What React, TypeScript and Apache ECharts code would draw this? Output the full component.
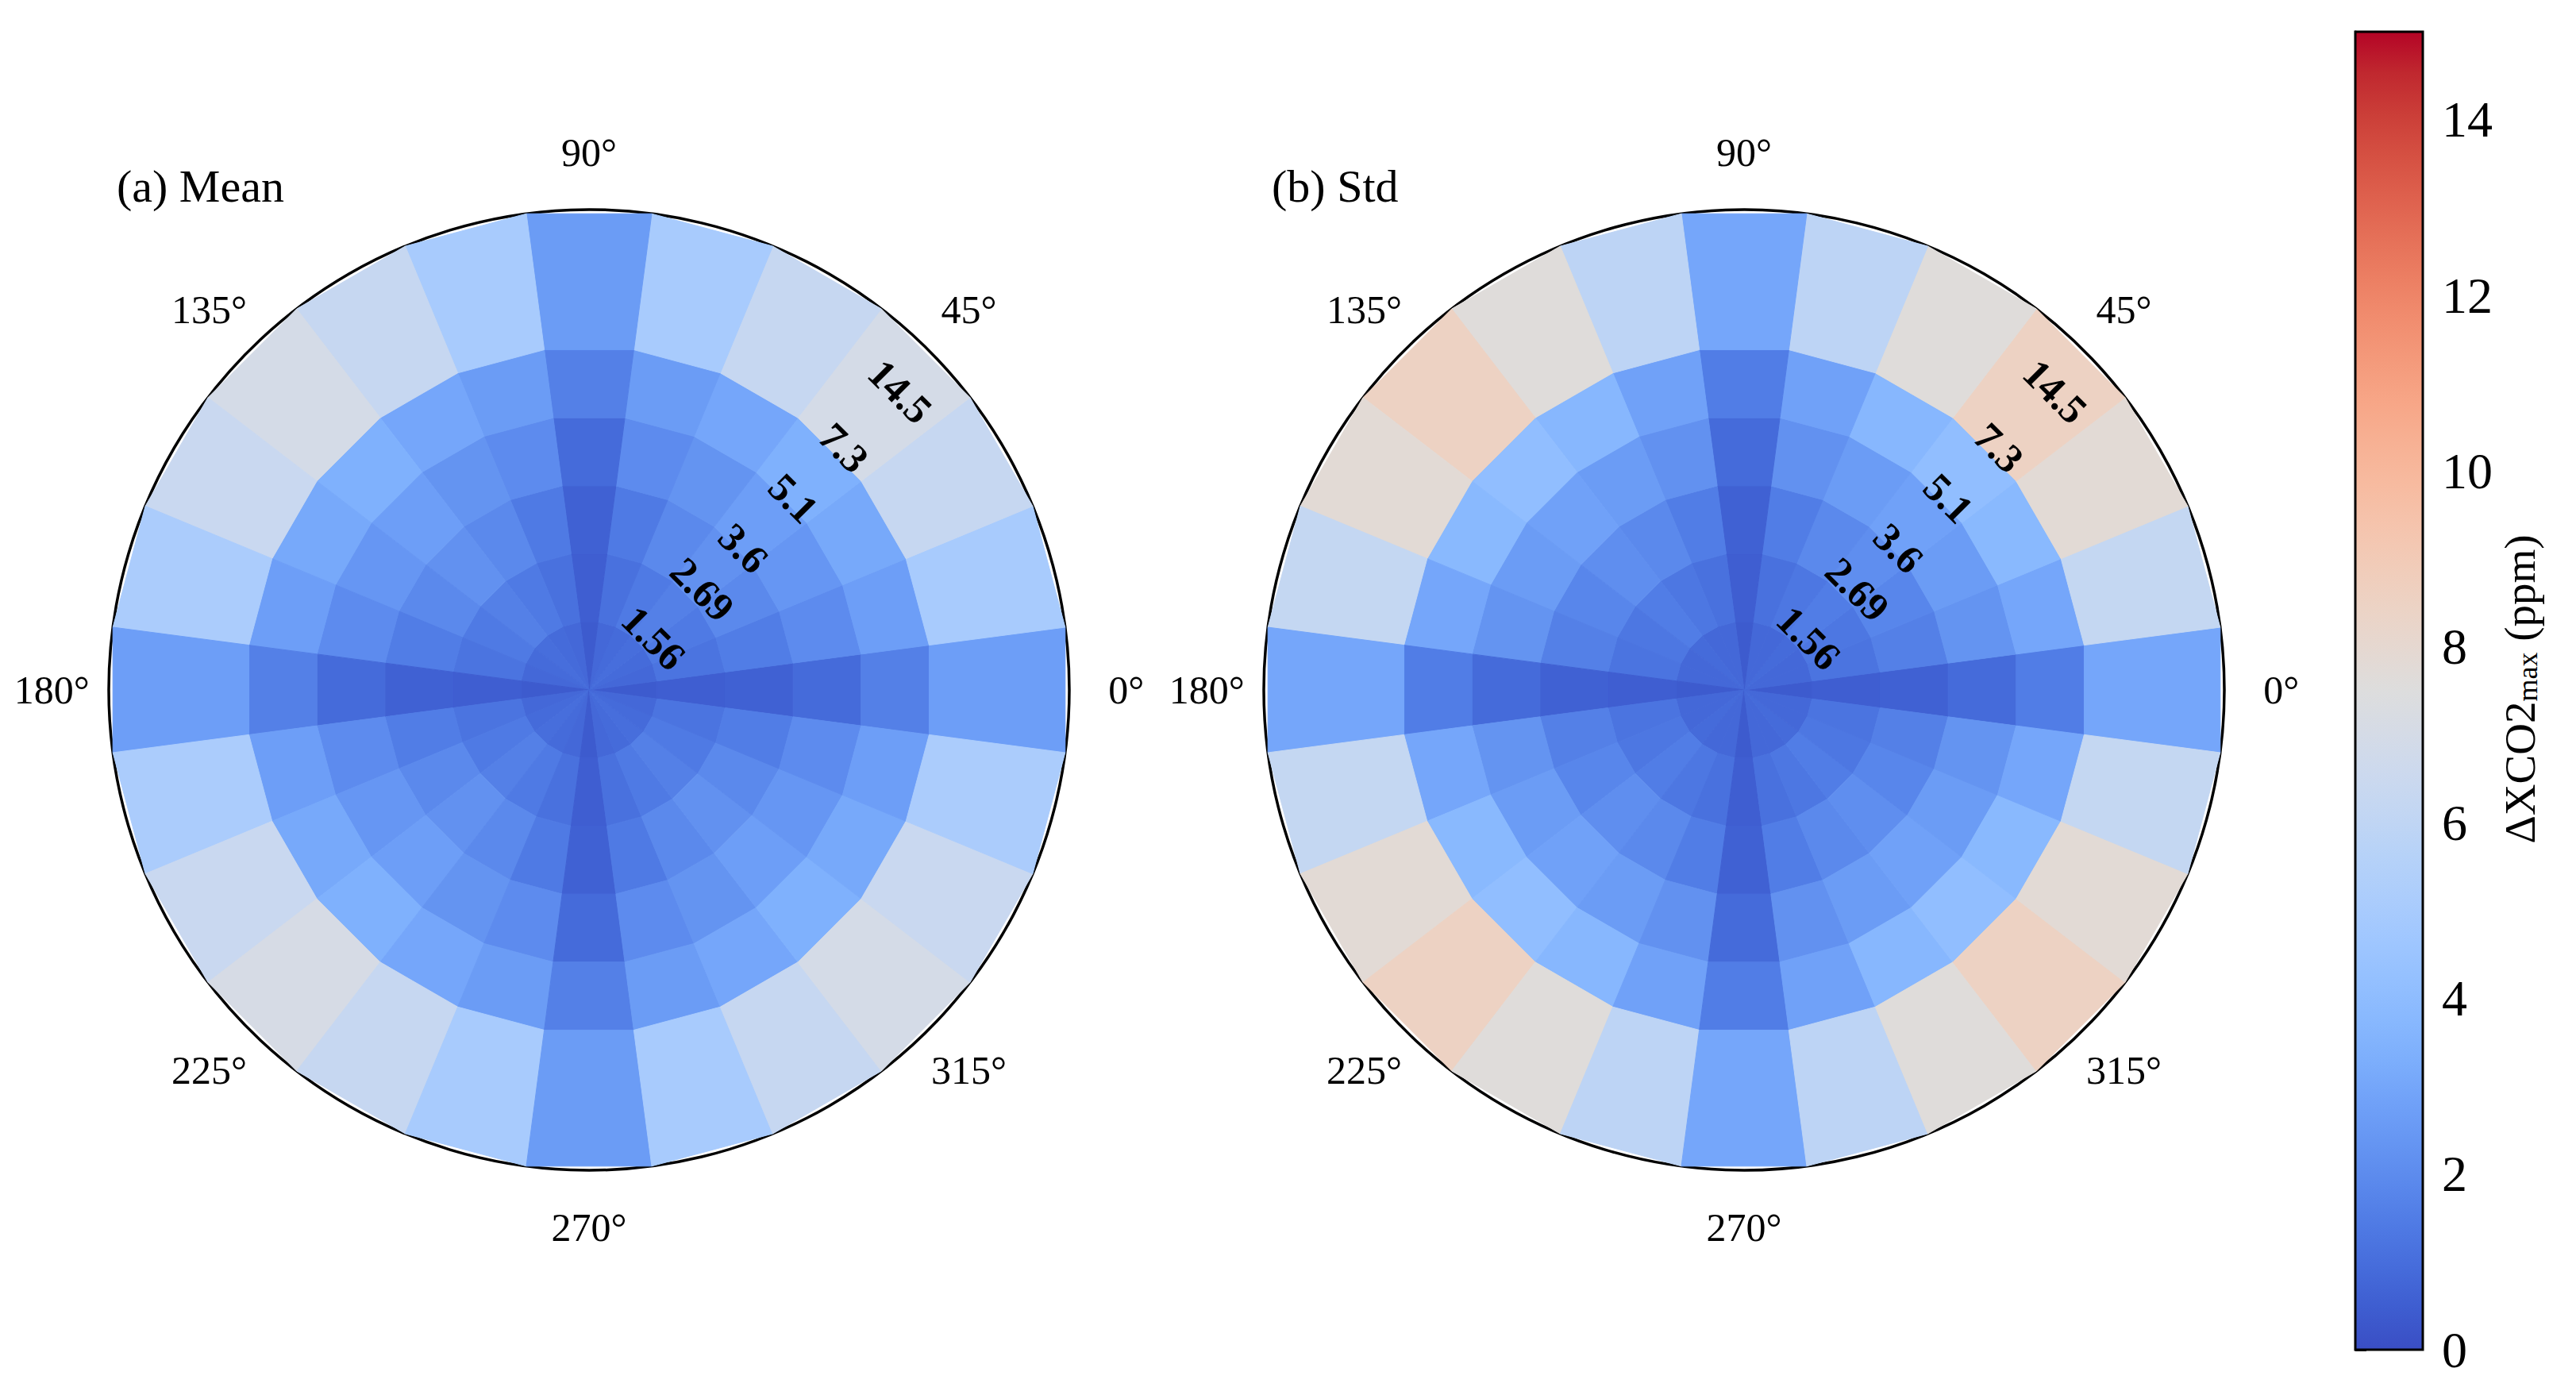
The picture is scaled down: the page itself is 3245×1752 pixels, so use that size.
import React, { useEffect, useRef } from 'react';
import * as echarts from 'echarts';

const FONT = "'Liberation Serif', 'Times New Roman', serif";

// direction bins (centre angle, degrees)
const angles = [0, 15, 30, 45, 60, 75, 90, 105, 120, 135, 150, 165, 180, 195, 210, 225, 240, 255, 270, 285, 300, 315, 330, 345];
// radial bin edges (axis units)
const ringEdges = [0, 1, 2, 3, 4, 5, 7];
const rTickLabels = ['1.56', '2.69', '3.6', '5.1', '7.3', '14.5'];
const angleTicks = [0, 45, 90, 135, 180, 225, 270, 315];
const cbTicks = [0, 2, 4, 6, 8, 10, 12, 14];
const cbRange = [0, 15];

// (a) Mean, ring 1 (innermost) .. ring 6 (outermost), values in ppm
const meanR1 = [0.4, 0.8, 0.9, 1.0, 0.9, 0.8, 0.4, 0.8, 0.9, 1.0, 0.9, 0.8, 0.4, 0.8, 0.9, 1.0, 0.9, 0.8, 0.4, 0.8, 0.9, 1.0, 0.9, 0.8];
const meanR2 = [0.5, 1.2, 1.4, 1.6, 1.4, 1.1, 0.5, 1.1, 1.4, 1.6, 1.4, 1.2, 0.5, 1.2, 1.4, 1.6, 1.4, 1.1, 0.5, 1.1, 1.4, 1.6, 1.4, 1.2];
const meanR3 = [0.6, 1.5, 1.9, 2.2, 1.9, 1.4, 0.6, 1.4, 1.9, 2.2, 1.9, 1.5, 0.6, 1.5, 1.9, 2.2, 1.9, 1.4, 0.6, 1.4, 1.9, 2.2, 1.9, 1.5];
const meanR4 = [0.9, 2.0, 2.4, 2.7, 2.3, 2.0, 0.9, 2.0, 2.3, 2.7, 2.4, 2.0, 0.9, 2.0, 2.4, 2.7, 2.3, 2.0, 0.9, 2.0, 2.3, 2.7, 2.4, 2.0];
const meanR5 = [1.6, 2.7, 3.1, 3.4, 3.0, 2.6, 1.6, 2.6, 3.0, 3.4, 3.1, 2.7, 1.6, 2.7, 3.1, 3.4, 3.0, 2.6, 1.6, 2.6, 3.0, 3.4, 3.1, 2.7];
const meanR6 = [2.7, 5.0, 6.3, 7.0, 6.3, 5.0, 2.6, 5.0, 6.3, 7.0, 6.4, 5.1, 2.7, 5.1, 6.4, 7.1, 6.3, 5.0, 2.6, 5.0, 6.3, 7.0, 6.4, 5.1];

// (b) Std
const stdR1 = [0.4, 0.8, 0.8, 0.9, 0.8, 0.8, 0.4, 0.8, 0.8, 0.9, 0.8, 0.8, 0.4, 0.8, 0.8, 0.9, 0.8, 0.8, 0.4, 0.8, 0.8, 0.9, 0.8, 0.8];
const stdR2 = [0.5, 1.2, 1.3, 1.5, 1.3, 1.1, 0.5, 1.1, 1.3, 1.5, 1.3, 1.2, 0.5, 1.2, 1.3, 1.5, 1.3, 1.1, 0.5, 1.1, 1.3, 1.5, 1.3, 1.2];
const stdR3 = [0.6, 1.6, 1.8, 2.1, 1.9, 1.5, 0.6, 1.5, 1.9, 2.1, 1.8, 1.6, 0.6, 1.6, 1.8, 2.1, 1.9, 1.5, 0.6, 1.5, 1.9, 2.1, 1.8, 1.6];
const stdR4 = [0.9, 2.3, 2.6, 2.8, 2.6, 2.2, 0.9, 2.2, 2.6, 2.8, 2.6, 2.3, 0.9, 2.3, 2.6, 2.8, 2.6, 2.2, 0.9, 2.2, 2.6, 2.8, 2.6, 2.3];
const stdR5 = [1.5, 3.0, 3.8, 4.1, 3.7, 2.8, 1.5, 2.8, 3.7, 4.1, 3.8, 3.0, 1.5, 3.0, 3.8, 4.1, 3.7, 2.8, 1.5, 2.8, 3.7, 4.1, 3.8, 3.0];
const stdR6 = [3.0, 6.2, 7.8, 8.5, 7.6, 5.9, 3.0, 5.9, 7.6, 8.5, 7.8, 6.2, 3.0, 6.2, 7.8, 8.5, 7.6, 5.9, 3.0, 5.9, 7.6, 8.5, 7.8, 6.2];

const meanRings = [meanR1, meanR2, meanR3, meanR4, meanR5, meanR6];
const stdRings = [stdR1, stdR2, stdR3, stdR4, stdR5, stdR6];

// "coolwarm"-like diverging map (blue half as it appears in the figure)
const coolwarm = [
  '#3a4ec4', '#3e5dd0', '#466cdb', '#4f7ae4', '#5a88ec', '#6595f2', '#70a1f8', '#7caefc',
  '#88b8fe', '#94c0ff', '#a0c7ff', '#accdfc', '#b6d2f8', '#c2d6f3', '#ccd9ee', '#d5dbe6',
  '#dddddd', '#e5d8d1', '#ecd3c5', '#f1ccb9', '#f5c4ad', '#f7bba0', '#f7b194', '#f7a687',
  '#f49a7b', '#f18d6f', '#ec7f63', '#e57058', '#de604d', '#d55042', '#cb3e38', '#c0282f', '#b40426'
];

// layout
const CENTERS = [[742, 869], [2197, 869]];
const RADIUS = 605;
const R_MAX = 7;
const ANGLE_LABEL_R = 7.83;
const R_LABEL_POS = [1.2, 2.2, 3.05, 4.08, 5.12, 6.28];
const TITLES = ['(a) Mean', '(b) Std'];

function cellData(rings: number[][]) {
  const half = 360 / angles.length / 2;
  const out: number[][] = [];
  rings.forEach((vals, j) => {
    vals.forEach((v, k) => {
      out.push([ringEdges[j], ringEdges[j + 1], angles[k] - half, angles[k] + half, v]);
    });
  });
  return out;
}

function cellSeries(rings: number[][], idx: number) {
  return {
    type: 'custom',
    coordinateSystem: 'polar',
    polarIndex: idx,
    encode: { radius: 0, angle: 2 },
    data: cellData(rings),
    renderItem: (params: any, api: any) => {
      const r0 = api.value(0), r1 = api.value(1), a0 = api.value(2), a1 = api.value(3);
      const pts = [api.coord([r0, a0]), api.coord([r1, a0]), api.coord([r1, a1]), api.coord([r0, a1])];
      const c = api.visual('color');
      return { type: 'polygon', shape: { points: pts }, style: { fill: c, stroke: c, lineWidth: 1 } };
    },
    z: 2,
  };
}

function rLabelSeries(idx: number) {
  return {
    type: 'custom',
    coordinateSystem: 'polar',
    polarIndex: idx,
    data: R_LABEL_POS.map((r) => [r, 45]),
    renderItem: (params: any, api: any) => {
      const p = api.coord([api.value(0), api.value(1)]);
      return {
        type: 'text',
        x: p[0] + 8,
        y: p[1] + 8,
        rotation: -Math.PI / 4,
        style: {
          text: rTickLabels[params.dataIndex],
          fontSize: 51,
          fontWeight: 'bold',
          fontFamily: FONT,
          fill: '#000',
          align: 'center',
          verticalAlign: 'middle',
        },
      };
    },
    z: 5,
  };
}

function angleLabelSeries(idx: number) {
  return {
    type: 'custom',
    coordinateSystem: 'polar',
    polarIndex: idx,
    data: angleTicks.map((a) => [ANGLE_LABEL_R, a]),
    renderItem: (params: any, api: any) => {
      const p = api.coord([api.value(0), api.value(1)]);
      return {
        type: 'text',
        x: p[0],
        y: p[1],
        style: {
          text: angleTicks[params.dataIndex] + '°',
          fontSize: 50,
          fontFamily: FONT,
          fill: '#000',
          align: 'center',
          verticalAlign: 'middle',
        },
      };
    },
    z: 5,
  };
}

export default function App() {
  const ref = useRef<HTMLDivElement>(null);
  useEffect(() => {
    document.body.style.margin = '0';
    const chart = echarts.init(ref.current as HTMLDivElement, null, { renderer: 'svg' });
    const gradStops = coolwarm.map((c, i) => ({ offset: i / (coolwarm.length - 1), color: c }));
    const option: any = {
      animation: false,
      backgroundColor: '#ffffff',
      polar: CENTERS.map((c) => ({ center: c, radius: RADIUS })),
      angleAxis: [0, 1].map((i) => ({
        polarIndex: i,
        type: 'value',
        min: 0,
        max: 360,
        startAngle: 0,
        clockwise: false,
        axisLine: { show: true, lineStyle: { color: '#000', width: 3.5 } },
        axisTick: { show: false },
        axisLabel: { show: false },
        splitLine: { show: false },
      })),
      radiusAxis: [0, 1].map((i) => ({
        polarIndex: i,
        type: 'value',
        min: 0,
        max: R_MAX,
        axisLine: { show: false },
        axisTick: { show: false },
        axisLabel: { show: false },
        splitLine: { show: false },
      })),
      grid: [{ left: 2967, top: 40, width: 85, height: 1660 }],
      xAxis: [{ gridIndex: 0, type: 'value', min: 0, max: 1, show: false }],
      yAxis: [{
        gridIndex: 0,
        type: 'value',
        min: cbRange[0],
        max: cbRange[1],
        interval: 2,
        position: 'right',
        axisLine: { show: true, lineStyle: { color: '#000', width: 3 } },
        axisTick: { show: true, length: 14, lineStyle: { color: '#000', width: 3 }, customValues: cbTicks },
        axisLabel: { customValues: cbTicks, fontSize: 64, fontFamily: FONT, color: '#000', margin: 24 },
        splitLine: { show: false },
      }],
      visualMap: {
        type: 'continuous',
        show: false,
        min: cbRange[0],
        max: cbRange[1],
        dimension: 4,
        seriesIndex: [0, 1],
        inRange: { color: coolwarm },
      },
      series: [
        cellSeries(meanRings, 0),
        cellSeries(stdRings, 1),
        rLabelSeries(0),
        rLabelSeries(1),
        angleLabelSeries(0),
        angleLabelSeries(1),
        {
          type: 'custom',
          coordinateSystem: 'cartesian2d',
          xAxisIndex: 0,
          yAxisIndex: 0,
          data: [[0, cbRange[0], 1, cbRange[1]]],
          renderItem: (params: any, api: any) => {
            const p0 = api.coord([api.value(0), api.value(1)]);
            const p1 = api.coord([api.value(2), api.value(3)]);
            return {
              type: 'rect',
              shape: { x: p0[0], y: p1[1], width: p1[0] - p0[0], height: p0[1] - p1[1] },
              style: {
                fill: new echarts.graphic.LinearGradient(0, 1, 0, 0, gradStops),
                stroke: '#000',
                lineWidth: 3,
              },
            };
          },
          z: 1,
        },
      ],
      graphic: [
        ...TITLES.map((t, i) => ({
          type: 'text',
          x: CENTERS[i][0] - 595,
          y: 234,
          style: { text: t, fontSize: 58, fontFamily: FONT, fill: '#000', align: 'left', verticalAlign: 'middle' },
        })),
        {
          type: 'text',
          x: 3174,
          y: 868,
          rotation: Math.PI / 2,
          style: {
            text: '{a|ΔXCO2}{b|max}{a| (ppm)}',
            align: 'center',
            verticalAlign: 'middle',
            fill: '#000',
            rich: {
              a: { fontSize: 55, fontFamily: FONT, fill: '#000', lineHeight: 56 },
              b: { fontSize: 36, fontFamily: FONT, fill: '#000', lineHeight: 18, verticalAlign: 'bottom' },
            },
          },
        },
      ],
    };
    chart.setOption(option);
    return () => chart.dispose();
  }, []);
  return <div ref={ref} style={{ width: 3245, height: 1752 }} />;
}
